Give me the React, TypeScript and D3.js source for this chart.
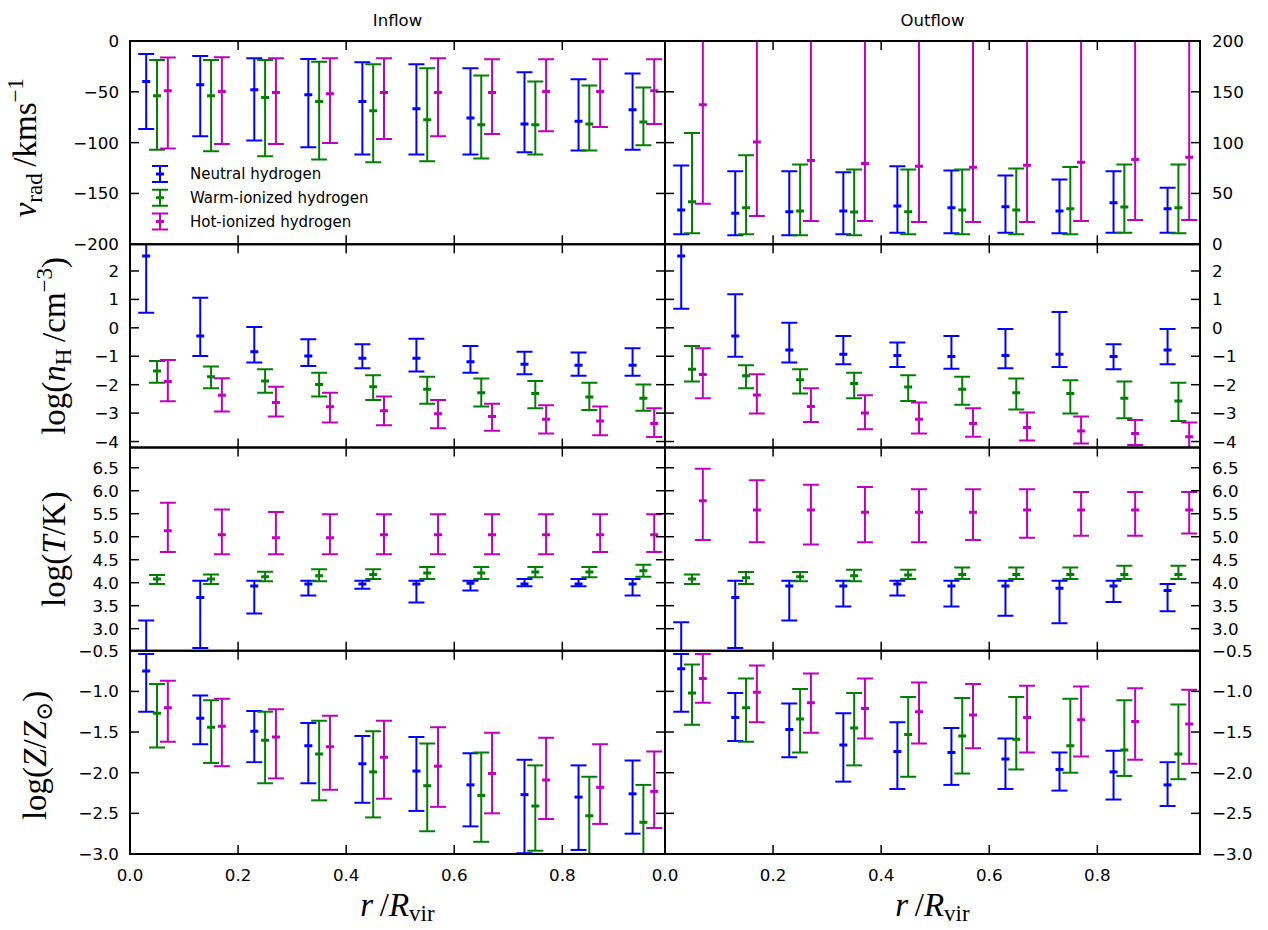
import React from 'react';
import * as d3 from 'd3';

// ---------- data: [lower, centre, upper] per radial bin ----------
const binCenters = [0.05, 0.15, 0.25, 0.35, 0.45, 0.55, 0.65, 0.75, 0.85, 0.95];
const seriesOffsets = [-0.02, 0, 0.02];
const seriesNames = ['Neutral hydrogen', 'Warm-ionized hydrogen', 'Hot-ionized hydrogen'];
const seriesColors = ['#0000ff', '#008000', '#bf00bf'];
const columnTitles = ['Inflow', 'Outflow'];
const xTicks = [0, 0.2, 0.4, 0.6, 0.8];

// radial velocity, inflow
const vradInNeutral = [[-86.6,-39.9,-12.7],[-93.8,-43.1,-14.7],[-98,-48,-17],[-104.6,-53,-17.6],[-111.8,-59.5,-20.9],[-111.8,-66.7,-22.9],[-111.8,-75.8,-26.8],[-109.5,-81.7,-30.7],[-107.8,-79,-37.6],[-106.9,-67.6,-32]];
const vradInWarm = [[-106.9,-53.9,-18.6],[-108.5,-53.9,-18.6],[-113.4,-55.6,-18.6],[-116.7,-59.5,-20.3],[-119.3,-68.6,-22.9],[-118.3,-77.5,-26.8],[-115.7,-82.4,-34],[-111.8,-82.4,-39.9],[-107.8,-81.7,-43.8],[-102.6,-79.7,-45.8]];
const vradInHot = [[-105.9,-49,-16.3],[-101.3,-49.7,-16],[-101.3,-50.7,-17],[-100.3,-52,-17],[-96.4,-50.7,-17],[-93.8,-50.7,-17],[-91.5,-50.7,-18],[-88.9,-49.7,-18],[-84.6,-49.7,-18],[-81.7,-49,-18]];
// radial velocity, outflow
const vradOutNeutral = [[9.8,33.7,77.5],[8.8,30.4,71.9],[8.8,32,71.9],[9.8,32.7,70.9],[11.4,37.6,76.8],[10.8,35.9,72.5],[11.4,36.9,67.6],[10.8,32.7,63.7],[11.4,40.8,71.9],[11.4,35,55.6]];
const vradOutWarm = [[10.8,41.8,109.5],[9.8,35.9,87.6],[8.8,32.7,78.4],[8.8,31.7,73.5],[9.8,32,73.5],[9.8,33.7,73.5],[9.8,33.7,74.5],[9.8,35,76.1],[11.4,36.6,78.4],[10.8,35.9,78.4]];
const vradOutHot = [[39.9,137.3,420],[27.8,100.7,330],[22.9,82.4,300],[22.9,79.4,290],[21.9,76.8,285],[21.9,75.8,285],[21.9,77.8,290],[22.9,80.7,295],[23.9,83.3,300],[23.9,85.6,305]];

// density, inflow
const nhInNeutral = [[0.53,2.53,3.6],[-0.99,-0.29,1.06],[-1.22,-0.84,0.03],[-1.34,-0.99,-0.4],[-1.42,-1.07,-0.58],[-1.54,-1.07,-0.38],[-1.58,-1.19,-0.64],[-1.63,-1.28,-0.84],[-1.69,-1.32,-0.87],[-1.69,-1.32,-0.72]];
const nhInWarm = [[-1.93,-1.52,-1.17],[-2.13,-1.72,-1.36],[-2.28,-1.87,-1.46],[-2.42,-1.99,-1.58],[-2.54,-2.07,-1.67],[-2.67,-2.16,-1.72],[-2.77,-2.28,-1.78],[-2.83,-2.31,-1.87],[-2.89,-2.43,-1.93],[-2.92,-2.48,-1.99]];
const nhInHot = [[-2.58,-1.89,-1.13],[-2.94,-2.37,-1.77],[-3.12,-2.63,-2.07],[-3.33,-2.78,-2.28],[-3.43,-2.92,-2.42],[-3.53,-3.02,-2.54],[-3.62,-3.12,-2.67],[-3.72,-3.22,-2.72],[-3.78,-3.28,-2.77],[-3.84,-3.37,-2.83]];
// density, outflow
const nhOutNeutral = [[0.67,2.53,3.6],[-1.02,-0.29,1.18],[-1.22,-0.78,0.18],[-1.28,-0.93,-0.29],[-1.38,-0.97,-0.52],[-1.44,-1.01,-0.29],[-1.42,-0.97,-0.04],[-1.38,-0.93,0.56],[-1.46,-1.01,-0.58],[-1.28,-0.78,-0.04]];
const nhOutWarm = [[-1.89,-1.46,-0.64],[-2.13,-1.69,-1.32],[-2.31,-1.83,-1.46],[-2.48,-1.96,-1.58],[-2.57,-2.08,-1.67],[-2.71,-2.16,-1.72],[-2.87,-2.28,-1.78],[-3.01,-2.31,-1.84],[-3.18,-2.48,-1.89],[-3.28,-2.57,-1.93]];
const nhOutHot = [[-2.48,-1.64,-0.72],[-3.01,-2.36,-1.63],[-3.31,-2.77,-2.13],[-3.57,-3.0,-2.37],[-3.72,-3.22,-2.63],[-3.83,-3.37,-2.83],[-3.96,-3.51,-2.98],[-4.07,-3.63,-3.12],[-4.12,-3.72,-3.24],[-4.25,-3.83,-3.33]];

// temperature, inflow
const tInNeutral = [[1.9,2.45,3.18],[2.58,3.68,4.04],[3.33,3.93,4.04],[3.72,3.97,4.04],[3.87,3.97,4.04],[3.57,3.97,4.04],[3.83,3.99,4.04],[3.92,3.97,4.08],[3.92,3.97,4.08],[3.72,3.97,4.08]];
const tInWarm = [[3.97,4.08,4.17],[3.97,4.08,4.18],[4.03,4.13,4.24],[4.03,4.15,4.29],[4.08,4.18,4.29],[4.08,4.21,4.34],[4.08,4.21,4.34],[4.12,4.23,4.34],[4.12,4.23,4.34],[4.13,4.26,4.39]];
const tInHot = [[4.67,5.13,5.74],[4.62,5.04,5.59],[4.62,4.98,5.54],[4.62,4.98,5.49],[4.62,5.04,5.49],[4.62,5.04,5.49],[4.62,5.04,5.49],[4.62,5.04,5.49],[4.67,5.04,5.49],[4.67,5.04,5.49]];
// temperature, outflow
const tOutNeutral = [[1.9,2.4,3.14],[2.58,3.68,4.04],[3.18,3.93,4.04],[3.48,3.93,4.04],[3.72,3.97,4.04],[3.48,3.93,4.04],[3.28,3.93,4.04],[3.12,3.88,4.04],[3.58,3.93,4.04],[3.38,3.83,3.97]];
const tOutWarm = [[3.97,4.08,4.18],[3.97,4.11,4.23],[4.03,4.13,4.23],[4.03,4.15,4.28],[4.08,4.17,4.28],[4.08,4.18,4.33],[4.08,4.18,4.33],[4.08,4.18,4.33],[4.08,4.18,4.37],[4.08,4.18,4.37]];
const tOutHot = [[4.93,5.78,6.48],[4.88,5.58,6.23],[4.83,5.58,6.13],[4.88,5.53,6.08],[4.88,5.53,6.03],[4.93,5.53,6.03],[4.98,5.58,6.03],[5.02,5.58,5.97],[5.02,5.58,5.97],[5.07,5.58,5.97]];

// metallicity, inflow
const zInNeutral = [[-1.25,-0.75,-0.54],[-1.65,-1.33,-1.05],[-1.87,-1.49,-1.24],[-2.13,-1.67,-1.39],[-2.37,-1.89,-1.55],[-2.47,-1.98,-1.56],[-2.66,-2.15,-1.76],[-2.99,-2.27,-1.84],[-2.95,-2.3,-1.91],[-2.75,-2.26,-1.85]];
const zInWarm = [[-1.69,-1.27,-0.91],[-1.88,-1.44,-1.11],[-2.13,-1.6,-1.25],[-2.34,-1.77,-1.36],[-2.55,-1.99,-1.49],[-2.72,-2.16,-1.64],[-2.85,-2.28,-1.75],[-2.96,-2.41,-1.91],[-3.1,-2.53,-2.05],[-3.2,-2.61,-2.15]];
const zInHot = [[-1.62,-1.2,-0.87],[-1.92,-1.43,-1.09],[-2.07,-1.56,-1.22],[-2.21,-1.68,-1.3],[-2.32,-1.81,-1.36],[-2.42,-1.92,-1.44],[-2.5,-2.01,-1.51],[-2.57,-2.09,-1.57],[-2.63,-2.18,-1.65],[-2.68,-2.23,-1.74]];
// metallicity, outflow
const zOutNeutral = [[-1.25,-0.72,-0.54],[-1.61,-1.32,-1.02],[-1.81,-1.47,-1.15],[-2.11,-1.66,-1.27],[-2.2,-1.74,-1.38],[-2.15,-1.75,-1.45],[-2.2,-1.83,-1.58],[-2.22,-1.96,-1.75],[-2.33,-1.99,-1.73],[-2.41,-2.15,-1.87]];
const zOutWarm = [[-1.41,-1.02,-0.67],[-1.62,-1.2,-0.84],[-1.75,-1.34,-0.97],[-1.91,-1.45,-1.02],[-2.05,-1.53,-1.07],[-2.01,-1.55,-1.08],[-1.96,-1.59,-1.07],[-2.0,-1.67,-1.09],[-2.04,-1.72,-1.11],[-2.08,-1.77,-1.16]];
const zOutHot = [[-1.14,-0.84,-0.54],[-1.38,-1.01,-0.68],[-1.51,-1.14,-0.78],[-1.58,-1.21,-0.84],[-1.64,-1.25,-0.89],[-1.7,-1.29,-0.91],[-1.75,-1.32,-0.93],[-1.8,-1.35,-0.94],[-1.84,-1.37,-0.96],[-1.89,-1.4,-0.98]];

// ---------- axis setup ----------
const rowDomains = [
  [[-200, 0], [0, 200]],
  [[-4.21, 2.94], [-4.21, 2.94]],
  [[2.52, 6.94], [2.52, 6.94]],
  [[-3.0, -0.5], [-3.0, -0.5]],
];
const rowTicks = [
  [[-200, -150, -100, -50, 0], [0, 50, 100, 150, 200]],
  [[-4, -3, -2, -1, 0, 1, 2], [-4, -3, -2, -1, 0, 1, 2]],
  [[3, 3.5, 4, 4.5, 5, 5.5, 6, 6.5], [3, 3.5, 4, 4.5, 5, 5.5, 6, 6.5]],
  [[-3, -2.5, -2, -1.5, -1, -0.5], [-3, -2.5, -2, -1.5, -1, -0.5]],
];
const rowFormats = ['d', 'd', '.1f', '.1f'];
const panelData = [
  [[vradInNeutral, vradInWarm, vradInHot], [vradOutNeutral, vradOutWarm, vradOutHot]],
  [[nhInNeutral, nhInWarm, nhInHot], [nhOutNeutral, nhOutWarm, nhOutHot]],
  [[tInNeutral, tInWarm, tInHot], [tOutNeutral, tOutWarm, tOutHot]],
  [[zInNeutral, zInWarm, zInHot], [zOutNeutral, zOutWarm, zOutHot]],
];

// ---------- layout ----------
const W = 1268, H = 930;
const colX = [[130, 665], [665, 1200]];
const rowY = [41, 244.25, 447.5, 650.75, 854];
const xDomain = [0, 0.99];
const TICK = 9;
const tickFont = '"DejaVu Sans", sans-serif';
const mathFont = '"Liberation Serif", "DejaVu Serif", serif';
const MATH = 33;
const SUB = 23;

function ErrBar({ cx, y, d, color, cap = 8 }: any) {
  const [lo, mid, hi] = d;
  return (
    <g stroke={color} strokeWidth={2} fill="none">
      <line x1={cx} x2={cx} y1={y(lo)} y2={y(hi)} />
      <line x1={cx - cap} x2={cx + cap} y1={y(lo)} y2={y(lo)} />
      <line x1={cx - cap} x2={cx + cap} y1={y(hi)} y2={y(hi)} />
      <line x1={cx - 4} x2={cx + 4} y1={y(mid)} y2={y(mid)} strokeWidth={3} />
    </g>
  );
}

function Panel({ r, c }: { r: number; c: number }) {
  const [x0, x1] = colX[c];
  const y0 = rowY[r], y1 = rowY[r + 1];
  const x = d3.scaleLinear().domain(xDomain).range([x0, x1]);
  const y = d3.scaleLinear().domain(rowDomains[r][c]).range([y1, y0]);
  const fmt = d3.format(rowFormats[r]);
  const id = `clip-${r}-${c}`;
  const yt = rowTicks[r][c];
  return (
    <g>
      <defs>
        <clipPath id={id}>
          <rect x={x0} y={y0} width={x1 - x0} height={y1 - y0} />
        </clipPath>
      </defs>
      <g clipPath={`url(#${id})`}>
        {panelData[r][c].map((series, si) =>
          series.map((d, bi) => (
            <ErrBar key={`${si}-${bi}`} cx={x(binCenters[bi] + seriesOffsets[si])} y={y} d={d} color={seriesColors[si]} />
          ))
        )}
      </g>
      {/* ticks */}
      <g stroke="#000" strokeWidth={1.5}>
        {xTicks.map((t) => (
          <g key={`xt${t}`}>
            <line x1={x(t)} x2={x(t)} y1={y0} y2={y0 + TICK} />
            <line x1={x(t)} x2={x(t)} y1={y1} y2={y1 - TICK} />
          </g>
        ))}
        {yt.map((t) => (
          <g key={`yt${t}`}>
            <line x1={x0} x2={x0 + TICK} y1={y(t)} y2={y(t)} />
            <line x1={x1} x2={x1 - TICK} y1={y(t)} y2={y(t)} />
          </g>
        ))}
      </g>
      <rect x={x0} y={y0} width={x1 - x0} height={y1 - y0} fill="none" stroke="#000" strokeWidth={2} />
      {/* y tick labels */}
      <g fontFamily={tickFont} fontSize={16.7} fill="#000">
        {yt.map((t) => (
          <text
            key={`yl${t}`}
            x={c === 0 ? x0 - 11 : x1 + 12}
            y={y(t)}
            dy="0.36em"
            textAnchor={c === 0 ? 'end' : 'start'}
          >
            {fmt(t)}
          </text>
        ))}
        {r === 3 &&
          xTicks.map((t) => (
            <text key={`xl${t}`} x={x(t)} y={y1 + 27} textAnchor="middle">
              {d3.format('.1f')(t)}
            </text>
          ))}
      </g>
    </g>
  );
}

function Legend() {
  const lx = 160, ty = 174, step = 23.75;
  return (
    <g>
      {seriesNames.map((name, i) => {
        const cy = ty + i * step;
        const yy = (v: number) => v;
        return (
          <g key={name}>
            <ErrBar cx={lx} y={yy} d={[cy + 8, cy, cy - 8]} color={seriesColors[i]} />
            <text x={190} y={cy} dy="0.35em" fontFamily={tickFont} fontSize={15} fill="#000">
              {name}
            </text>
          </g>
        );
      })}
    </g>
  );
}

function YLabel({ cx, cy, children }: any) {
  return (
    <text
      transform={`translate(${cx},${cy}) rotate(-90)`}
      textAnchor="middle"
      fontFamily={mathFont}
      fontSize={MATH}
      fill="#000"
    >
      {children}
    </text>
  );
}

export default function App() {
  const rowMid = (r: number) => (rowY[r] + rowY[r + 1]) / 2;
  return (
    <svg width={W} height={H} style={{ position: 'absolute', left: 0, top: 0, background: '#fff' }}>
      <rect x={0} y={0} width={W} height={H} fill="#fff" />
      {[0, 1, 2, 3].map((r) => [0, 1].map((c) => <Panel key={`${r}-${c}`} r={r} c={c} />))}
      <Legend />
      {columnTitles.map((t, c) => (
        <text key={t} x={(colX[c][0] + colX[c][1]) / 2} y={26} textAnchor="middle" fontFamily={tickFont} fontSize={16.5} fill="#000">
          {t}
        </text>
      ))}
      {/* y labels */}
      <YLabel cx={36} cy={rowMid(0) + 5}>
        <tspan fontStyle="italic">v</tspan>
        <tspan fontSize={SUB} dy={6}>rad</tspan>
        <tspan dy={-6}>{'\u2009/kms'}</tspan>
        <tspan fontSize={SUB} dy={-13}>{'\u22121'}</tspan>
      </YLabel>
      <YLabel cx={65} cy={rowMid(1)}>
        <tspan>log(</tspan>
        <tspan fontStyle="italic">n</tspan>
        <tspan fontSize={SUB} dy={6}>H</tspan>
        <tspan dy={-6}>{'\u2009/cm'}</tspan>
        <tspan fontSize={SUB} dy={-13}>{'\u22123'}</tspan>
        <tspan dy={13}>)</tspan>
      </YLabel>
      <YLabel cx={65} cy={rowMid(2)}>
        <tspan>log(</tspan>
        <tspan fontStyle="italic">T</tspan>
        <tspan>/K)</tspan>
      </YLabel>
      <YLabel cx={46} cy={rowMid(3) + 3}>
        <tspan>log(</tspan>
        <tspan fontStyle="italic">Z</tspan>
        <tspan>/</tspan>
        <tspan fontStyle="italic">Z</tspan>
        <tspan fontSize={SUB} dy={6}>{'\u2299'}</tspan>
        <tspan dy={-6}>)</tspan>
      </YLabel>
      {/* x labels */}
      {colX.map(([a, b], c) => (
        <text key={`xlab${c}`} x={(a + b) / 2} y={916} textAnchor="middle" fontFamily={mathFont} fontSize={MATH} fill="#000">
          <tspan fontStyle="italic">r</tspan>
          <tspan>{'\u2009/'}</tspan>
          <tspan fontStyle="italic">R</tspan>
          <tspan fontSize={SUB} dy={5}>vir</tspan>
        </text>
      ))}
    </svg>
  );
}
